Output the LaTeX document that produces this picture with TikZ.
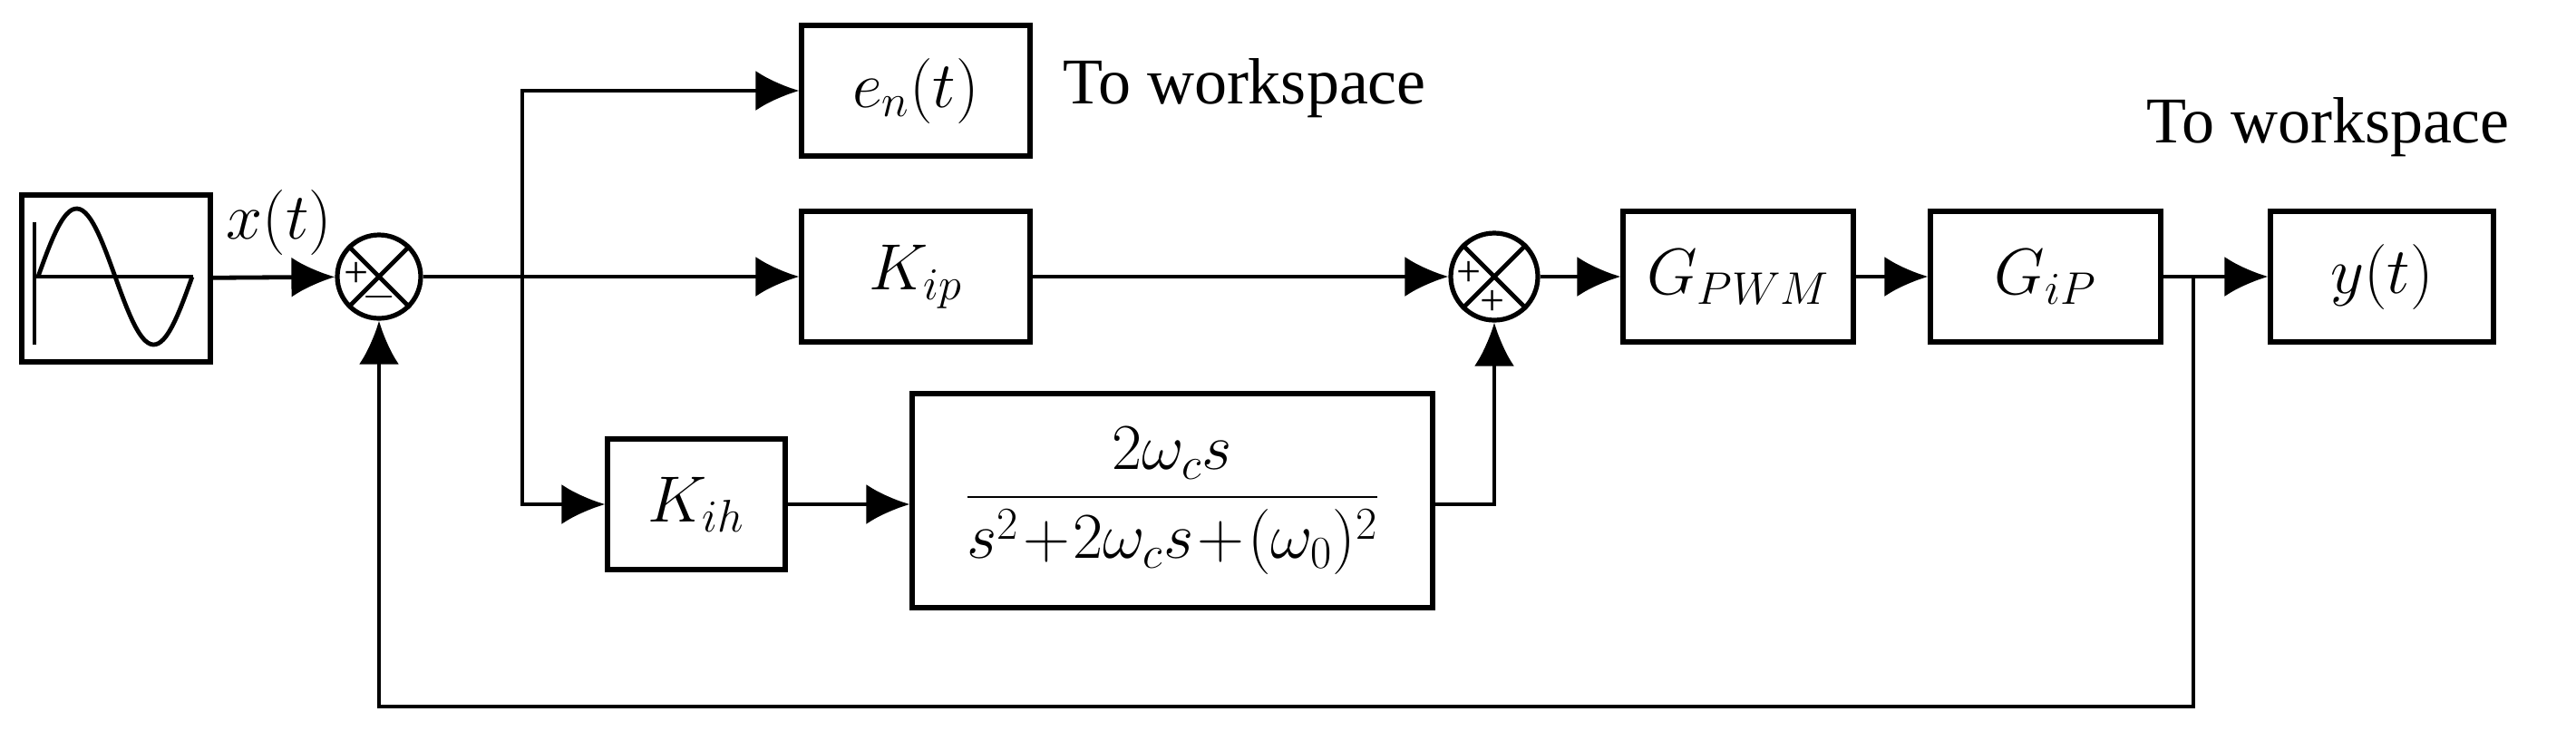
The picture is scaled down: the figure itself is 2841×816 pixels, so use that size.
\documentclass[tikz,border=0pt]{standalone}
\usepackage{fix-cm}
\usepackage{amsmath}
\usepackage{fontspec}
\setmainfont{Liberation Serif}
\usetikzlibrary{arrows.meta}
\begin{document}
\begin{tikzpicture}[x=0.5pt,y=-0.5pt,
  every node/.style={font=\fontsize{36}{42}\selectfont},
  blk/.style={draw,line width=2.6pt,minimum height=72pt,inner sep=0pt},
  sum/.style={draw,circle,line width=2.6pt,minimum size=46pt,inner sep=0pt},
  ar/.style={line width=2.4pt,-{Latex[length=24pt,width=22pt]}},
  ln/.style={line width=2.4pt}]
\useasboundingbox (0,0) rectangle (2841,816);
% source
\node[blk,minimum width=104pt,minimum height=92pt] (src) at (128,307) {};
\draw[line width=2.4pt] (38,245) -- (38,380) (38,305) -- (213,305);
\draw[line width=2.4pt,domain=0:1,samples=60,smooth] plot ({42+170*\x},{305-75*sin(360*\x)});
\node[sum] (s1) at (418,305) {};
\draw[line width=2.4pt] (s1.45)--(s1.225) (s1.135)--(s1.315);
\node[font=\fontsize{24}{24}\selectfont] at (393,303) {+};
\node[font=\fontsize{24}{24}\selectfont] at (418,327) {$-$};
\node[anchor=south] at (308,288) {$x(t)$};
\node[blk,minimum width=126pt] (en) at (1010,100) {$e_n(t)$};
\node[anchor=west] at (1165,97) {To workspace};
\node[blk,minimum width=126pt] (kip) at (1010,305) {$K_{ip}$};
\node[blk,minimum width=98pt,minimum height=72pt] (kih) at (768,556) {$K_{ih}$};
\node[blk,minimum width=287pt,minimum height=118pt] (fr) at (1293,552) {$\dfrac{2\omega_c s}{s^2\!+\!2\omega_c s\!+\!(\omega_0)^2}$};
\node[sum,minimum size=48pt] (s2) at (1648,305) {};
\draw[line width=2.4pt] (s2.45)--(s2.225) (s2.135)--(s2.315);
\node[font=\fontsize{24}{24}\selectfont] at (1620,302) {+};
\node[font=\fontsize{24}{24}\selectfont] at (1646,334) {+};
\node[blk,minimum width=127pt] (pwm) at (1917,305) {$G_{PWM}$};
\node[blk,minimum width=127pt] (gip) at (2256,305) {$G_{iP}$};
\node[blk,minimum width=123pt] (y) at (2627,305) {$y(t)$};
\node[anchor=west] at (2360,140) {To workspace};
\coordinate (b1) at (576,305);
\coordinate (b2) at (2419,305);
\draw[ar] (src) -- (s1);
\draw[ar] (s1) -- (kip);
\draw[ar] (b1) |- (en);
\draw[ar] (b1) |- (kih);
\draw[ar] (kih) -- (kih -| fr.west);
\draw[ar] (fr.east |- kih) -| (s2.south);
\draw[ar] (kip) -- (s2);
\draw[ar] (s2) -- (pwm);
\draw[ar] (pwm) -- (gip);
\draw[ar] (gip) -- (y);
\draw[ar] (b2) |- (1200,779) -| (s1.south);
\end{tikzpicture}
\end{document}
